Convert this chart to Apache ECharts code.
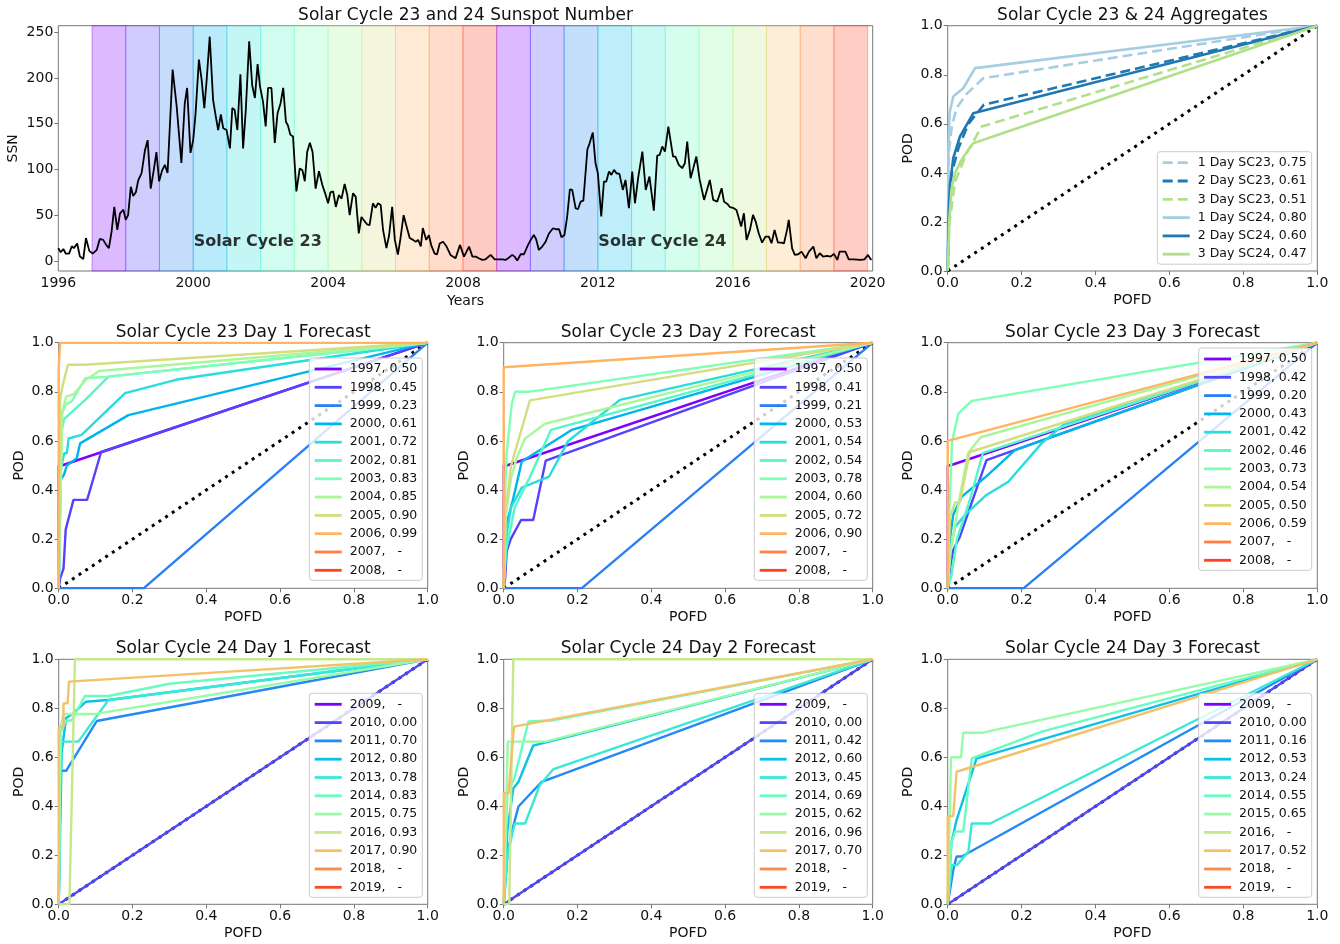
<!DOCTYPE html>
<html>
<head>
<meta charset="utf-8">
<title>Solar Cycle 23 and 24</title>
<script src="https://cdn.jsdelivr.net/npm/echarts@6/dist/echarts.min.js"></script>
<style>
  html, body { margin: 0; padding: 0; background: #fff; }
  #chart { width: 1340px; height: 944px; }
</style>
</head>
<body>
<div id="chart"></div>
<script>
// ---- sunspot number (years since 1996, SSN) ----
const ssnT = [
  0.00, 0.07, 0.15, 0.22, 0.32, 0.40, 0.46, 0.56, 0.64, 0.74,
  0.82, 0.92, 1.02, 1.14, 1.23, 1.33, 1.43, 1.50, 1.58, 1.66,
  1.75, 1.83, 1.93, 2.00, 2.07, 2.15, 2.22, 2.30, 2.37, 2.47,
  2.57, 2.65, 2.74, 2.83, 2.91, 2.99, 3.08, 3.16, 3.24, 3.39,
  3.51, 3.65, 3.75, 3.82, 3.92, 4.00, 4.07, 4.17, 4.25, 4.33,
  4.40, 4.49, 4.59, 4.67, 4.74, 4.82, 4.89, 4.99, 5.09, 5.16,
  5.23, 5.31, 5.40, 5.48, 5.56, 5.66, 5.75, 5.83, 5.91, 5.98,
  6.07, 6.15, 6.22, 6.32, 6.42, 6.50, 6.59, 6.67, 6.75, 6.81,
  6.88, 6.96, 7.06, 7.16, 7.24, 7.31, 7.38, 7.46, 7.54, 7.63,
  7.73, 7.83, 7.92, 8.00, 8.07, 8.15, 8.23, 8.32, 8.40, 8.49,
  8.57, 8.64, 8.74, 8.82, 8.91, 8.99, 9.09, 9.16, 9.23, 9.33,
  9.41, 9.48, 9.56, 9.63, 9.73, 9.81, 9.90, 9.98, 10.07, 10.14,
  10.24, 10.34, 10.42, 10.52, 10.60, 10.67, 10.75, 10.81, 10.91, 10.99,
  11.06, 11.16, 11.23, 11.31, 11.41, 11.51, 11.63, 11.78, 11.91, 12.03,
  12.18, 12.28, 12.38, 12.47, 12.57, 12.67, 12.82, 12.94, 13.07, 13.17,
  13.26, 13.36, 13.46, 13.53, 13.61, 13.71, 13.81, 13.93, 14.01, 14.10,
  14.17, 14.25, 14.35, 14.45, 14.55, 14.67, 14.75, 14.85, 14.92, 15.01,
  15.09, 15.17, 15.24, 15.34, 15.41, 15.49, 15.57, 15.69, 15.75, 15.85,
  15.93, 16.00, 16.10, 16.18, 16.25, 16.33, 16.40, 16.48, 16.55, 16.64,
  16.74, 16.82, 16.92, 17.02, 17.10, 17.20, 17.32, 17.42, 17.53, 17.66,
  17.76, 17.83, 17.91, 17.99, 18.09, 18.23, 18.30, 18.40, 18.50, 18.58,
  18.65, 18.75, 18.83, 18.92, 19.02, 19.15, 19.32, 19.42, 19.54, 19.67,
  19.74, 19.84, 19.92, 20.03, 20.11, 20.25, 20.33, 20.41, 20.51, 20.60,
  20.68, 20.77, 20.87, 20.97, 21.07, 21.15, 21.24, 21.34, 21.44, 21.52,
  21.61, 21.66, 21.76, 21.84, 21.94, 22.04, 22.16, 22.26, 22.39, 22.48,
  22.58, 22.68, 22.80, 22.90, 23.00, 23.10, 23.17, 23.26, 23.34, 23.44,
  23.59, 23.79, 23.91, 24.01, 24.09, 24.12
];
const ssnV = [
  14, 9.5, 13, 8, 8, 16, 14, 19, 5, 2,
  25, 11, 8, 12, 24, 23, 17, 14, 32, 59,
  34, 52, 56, 45, 50, 81, 71, 75, 88, 96,
  121, 132, 79, 99, 119, 87, 99, 105, 96, 209,
  169, 107, 172, 189, 118, 132, 161, 220, 198, 167,
  198, 245, 176, 158, 143, 160, 145, 143, 123, 167,
  165, 143, 204, 123, 165, 240, 192, 178, 215, 191,
  174, 147, 189, 189, 129, 161, 172, 189, 152, 148,
  138, 136, 76, 101, 99, 87, 119, 129, 119, 79,
  98, 83, 73, 63, 75, 76, 59, 72, 68, 84,
  72, 50, 74, 70, 30, 48, 43, 40, 39, 63,
  58, 63, 61, 34, 14, 28, 59, 23, 7, 23,
  50, 36, 25, 23, 21, 23, 16, 36, 23, 28,
  17, 8, 7, 19, 21, 16, 6.6, 2.9, 17.5, 4.7,
  15.7, 4.7, 4.7, 2.9, 1.1, 1.8, 6.6, 1.8, 1.8, 1.8,
  1.1, 3.6, 6.6, 4.7, 0.4, 7.3, 7.3, 17.5, 23, 28.4,
  23.7, 12, 15.7, 21, 30, 35.7, 34.6, 34.6, 25.9, 28.4,
  48.5, 78.3, 77.6, 57.6, 56.5, 64.8, 65.9, 122, 127.9, 140.3,
  106.7, 95.8, 48.5, 86.7, 86.7, 97.6, 94, 99.5, 95.8, 95.1,
  77.6, 88.5, 57.6, 97.6, 63, 92.2, 119.5, 77.6, 92.2, 55,
  115, 115.8, 125, 119.5, 146.8, 114, 114, 104.9, 101.3, 106.7,
  130.4, 90.3, 101.3, 114, 88.5, 66.7, 88.5, 66.7, 64.8, 79.4,
  64.8, 62.3, 58.7, 57.6, 55.7, 37.5, 52.1, 23, 33.9, 50.3,
  43, 30.2, 20, 26.6, 26.6, 19.3, 33.9, 20, 20, 19.3,
  33.9, 44.8, 13.8, 6.6, 7.3, 10.2, 2.9, 10.2, 15.7, 2.9,
  8.4, 4.7, 5.5, 4.7, 7.7, 1.1, 10.2, 10.2, 10.2, 1.8,
  1.8, 1.1, 1.8, 6.6, 1.8, 1.8
];
const ssnTicksX = [1996, 2000, 2004, 2008, 2012, 2016, 2020];
const ssnTicksY = [0, 50, 100, 150, 200, 250];
const cycleLabels = ['Solar Cycle 23', 'Solar Cycle 24'];
const cycleLabelX = [2000, 2012];
const cycleLabelY = 20.5;

// ---- years and scores shown in the legends ----
const years23 = ['1997', '1998', '1999', '2000', '2001', '2002', '2003', '2004', '2005', '2006', '2007', '2008'];
const years24 = ['2009', '2010', '2011', '2012', '2013', '2014', '2015', '2016', '2017', '2018', '2019'];
const auc23Day1 = ['0.50', '0.45', '0.23', '0.61', '0.72', '0.81', '0.83', '0.85', '0.90', '0.99', '-', '-'];
const auc23Day2 = ['0.50', '0.41', '0.21', '0.53', '0.54', '0.54', '0.78', '0.60', '0.72', '0.90', '-', '-'];
const auc23Day3 = ['0.50', '0.42', '0.20', '0.43', '0.42', '0.46', '0.73', '0.54', '0.50', '0.59', '-', '-'];
const auc24Day1 = ['-', '0.00', '0.70', '0.80', '0.78', '0.83', '0.75', '0.93', '0.90', '-', '-'];
const auc24Day2 = ['-', '0.00', '0.42', '0.60', '0.45', '0.69', '0.62', '0.96', '0.70', '-', '-'];
const auc24Day3 = ['-', '0.00', '0.16', '0.53', '0.24', '0.55', '0.65', '-', '0.52', '-', '-'];

// ---- ROC curves [POFD, POD], one list per year ----
const roc23Day1 = [
  [[0, 0], [0, 0.5], [0.008, 0.5], [1, 1]],
  [[0, 0], [0.004, 0.04], [0.013, 0.08], [0.019, 0.24], [0.04, 0.36], [0.077, 0.36], [0.115, 0.555], [1, 1]],
  [[0, 0], [0.23, 0], [1, 1]],
  [[0, 0], [0.005, 0.44], [0.015, 0.465], [0.022, 0.5], [0.049, 0.53], [0.058, 0.59], [0.189, 0.705], [1, 1]],
  [[0, 0], [0.005, 0.48], [0.015, 0.55], [0.022, 0.55], [0.027, 0.61], [0.062, 0.625], [0.18, 0.795], [0.32, 0.85], [1, 1]],
  [[0, 0], [0.005, 0.62], [0.015, 0.69], [0.074, 0.77], [0.135, 0.862], [1, 1]],
  [[0, 0], [0.005, 0.7], [0.02, 0.75], [0.035, 0.76], [0.072, 0.855], [0.135, 0.862], [1, 1]],
  [[0, 0], [0.01, 0.72], [0.02, 0.78], [0.04, 0.79], [0.075, 0.85], [0.11, 0.885], [1, 1]],
  [[0, 0], [0.004, 0.77], [0.01, 0.82], [0.025, 0.91], [0.07, 0.91], [1, 1]],
  [[0, 0], [0, 0.9], [0.004, 1], [1, 1]],
  [],
  []
];
const roc23Day2 = [
  [[0, 0], [0, 0.5], [0.008, 0.5], [1, 1]],
  [[0, 0], [0.004, 0.04], [0.008, 0.15], [0.019, 0.2], [0.047, 0.278], [0.08, 0.278], [0.114, 0.52], [1, 1]],
  [[0, 0], [0.211, 0], [1, 1]],
  [[0, 0], [0.004, 0.1], [0.008, 0.265], [0.025, 0.36], [0.049, 0.516], [0.184, 0.645], [1, 1]],
  [[0, 0], [0.006, 0.2], [0.02, 0.33], [0.049, 0.41], [0.123, 0.455], [0.175, 0.6], [0.315, 0.767], [1, 1]],
  [[0, 0], [0.006, 0.15], [0.03, 0.33], [0.07, 0.45], [0.128, 0.645], [1, 1]],
  [[0, 0], [0.004, 0.4], [0.008, 0.55], [0.012, 0.55], [0.015, 0.65], [0.022, 0.753], [0.031, 0.8], [0.067, 0.8], [1, 1]],
  [[0, 0], [0.006, 0.3], [0.02, 0.45], [0.035, 0.53], [0.058, 0.61], [0.112, 0.67], [1, 1]],
  [[0, 0], [0.004, 0.3], [0.02, 0.5], [0.071, 0.765], [1, 1]],
  [[0, 0], [0, 0.9], [1, 1]],
  [],
  []
];
const roc23Day3 = [
  [[0, 0], [0, 0.5], [0.006, 0.5], [1, 1]],
  [[0, 0], [0.008, 0.1], [0.015, 0.156], [0.033, 0.21], [0.105, 0.522], [1, 1]],
  [[0, 0], [0.205, 0], [1, 1]],
  [[0, 0], [0.006, 0.2], [0.015, 0.3], [0.038, 0.373], [0.1, 0.45], [0.182, 0.563], [1, 1]],
  [[0, 0], [0.006, 0.15], [0.02, 0.25], [0.051, 0.305], [0.105, 0.38], [0.164, 0.434], [0.254, 0.59], [0.313, 0.665], [1, 1]],
  [[0, 0], [0.01, 0.05], [0.025, 0.2], [0.06, 0.36], [0.095, 0.55], [1, 1]],
  [[0, 0], [0.004, 0.3], [0.012, 0.6], [0.029, 0.712], [0.065, 0.763], [1, 1]],
  [[0, 0], [0.008, 0.15], [0.03, 0.35], [0.055, 0.55], [0.089, 0.615], [1, 1]],
  [[0, 0], [0.006, 0.29], [0.02, 0.35], [0.033, 0.35], [0.06, 0.555], [1, 1]],
  [[0, 0], [0, 0.6], [1, 1]],
  [],
  []
];
const roc24Day1 = [
  [],
  [[0, 0], [1, 1]],
  [[0, 0], [0.005, 0.545], [0.02, 0.545], [0.103, 0.748], [1, 1]],
  [[0, 0], [0.008, 0.62], [0.02, 0.76], [0.04, 0.78], [0.074, 0.827], [0.14, 0.835], [1, 1]],
  [[0, 0], [0.004, 0.6], [0.008, 0.664], [0.053, 0.664], [0.135, 0.834], [1, 1]],
  [[0, 0], [0.005, 0.7], [0.02, 0.75], [0.035, 0.75], [0.071, 0.85], [0.135, 0.85], [0.3, 0.9], [1, 1]],
  [[0, 0], [0.005, 0.72], [0.013, 0.777], [0.1, 0.777], [1, 1]],
  [[0, 0], [0.029, 0], [0.044, 1], [1, 1]],
  [[0, 0], [0, 0.72], [0.013, 0.725], [0.013, 0.82], [0.024, 0.82], [0.028, 0.909], [1, 1]],
  [],
  []
];
const roc24Day2 = [
  [],
  [[0, 0], [1, 1]],
  [[0, 0], [0.01, 0.2], [0.022, 0.297], [0.04, 0.399], [0.103, 0.5], [1, 1]],
  [[0, 0], [0.01, 0.3], [0.026, 0.473], [0.04, 0.5], [0.08, 0.648], [1, 1]],
  [[0, 0], [0.01, 0.2], [0.03, 0.33], [0.058, 0.33], [0.098, 0.487], [0.135, 0.552], [1, 1]],
  [[0, 0], [0.01, 0.45], [0.03, 0.52], [0.067, 0.746], [0.13, 0.75], [1, 1]],
  [[0, 0], [0.011, 0.664], [0.112, 0.664], [1, 1]],
  [[0, 0], [0.015, 0], [0.026, 1], [1, 1]],
  [[0, 0], [0, 0.453], [0.013, 0.453], [0.028, 0.725], [1, 1]],
  [],
  []
];
const roc24Day3 = [
  [],
  [[0, 0], [1, 1]],
  [[0, 0], [0.015, 0.14], [0.024, 0.195], [0.038, 0.195], [1, 1]],
  [[0, 0], [0.01, 0.25], [0.024, 0.344], [0.078, 0.596], [1, 1]],
  [[0, 0], [0.011, 0.16], [0.025, 0.16], [0.056, 0.215], [0.065, 0.33], [0.115, 0.33], [1, 1]],
  [[0, 0], [0.01, 0.25], [0.02, 0.297], [0.042, 0.297], [0.065, 0.596], [0.254, 0.705], [1, 1]],
  [[0, 0], [0.009, 0.6], [0.036, 0.6], [0.042, 0.7], [0.092, 0.7], [1, 1]],
  [],
  [[0, 0], [0, 0.36], [0.015, 0.36], [0.024, 0.541], [1, 1]],
  [],
  []
];

// ---- aggregates ----
const aggNames = ['1 Day SC23, 0.75', '2 Day SC23, 0.61', '3 Day SC23, 0.51', '1 Day SC24, 0.80', '2 Day SC24, 0.60', '3 Day SC24, 0.47'];
const aggCurves = [
  [[0, 0], [0.003, 0.48], [0.011, 0.589], [0.024, 0.664], [0.05, 0.72], [0.096, 0.786], [1, 1]],
  [[0, 0], [0.004, 0.3], [0.011, 0.4], [0.029, 0.5], [0.056, 0.6], [0.098, 0.678], [1, 1]],
  [[0, 0], [0.005, 0.2], [0.02, 0.364], [0.051, 0.48], [0.092, 0.589], [1, 1]],
  [[0, 0], [0.002, 0.5], [0.005, 0.644], [0.015, 0.711], [0.042, 0.745], [0.074, 0.827], [1, 1]],
  [[0, 0], [0.003, 0.25], [0.006, 0.35], [0.015, 0.46], [0.033, 0.548], [0.069, 0.643], [1, 1]],
  [[0, 0], [0.004, 0.2], [0.01, 0.33], [0.02, 0.4], [0.04, 0.46], [0.069, 0.521], [1, 1]]
];
const diagonal = [[0, 0], [1, 1]];

// ---- styling ----
const FONT = 'DejaVu Sans';
const FRAME = '#777';
const TEXT = '#111';
const aggColors = ['#a6cee3', '#1f78b4', '#b2df8a', '#a6cee3', '#1f78b4', '#b2df8a'];

function rainbow(x, a) {   // matplotlib "rainbow" colormap
  const r = Math.min(1, Math.abs(2 * x - 0.5));
  const g = Math.sin(Math.PI * x);
  const b = Math.cos(Math.PI * x / 2);
  return 'rgba(' + Math.round(r * 255) + ',' + Math.round(g * 255) + ',' + Math.round(b * 255) + ',' + (a == null ? 1 : a) + ')';
}
const colors23 = years23.map((y, i) => rainbow(i / 12));
const colors24 = years24.map((y, i) => rainbow(i / 11));

function legendName(year, auc) {
  return auc === '-' ? year + ',   -' : year + ', ' + auc;
}

const grids = [];
const xAxes = [];
const yAxes = [];
const series = [];
const titles = [];
const legends = [];

function addPanel(box, title, xName, yName, valueAxis) {
  const idx = grids.length;
  grids.push({
    left: box.left, top: box.top, width: box.width, height: box.height,
    show: true, borderColor: FRAME, borderWidth: 1, backgroundColor: 'transparent',
    containLabel: false, outerBoundsMode: 'none'
  });
  titles.push({
    text: title, left: box.left + box.width / 2, top: box.top - 19, textAlign: 'center', padding: 0,
    textStyle: {fontFamily: FONT, fontSize: 17, fontWeight: 'normal', color: TEXT}
  });
  const common = {
    gridIndex: idx, type: 'value', nameLocation: 'middle',
    nameTextStyle: {fontFamily: FONT, fontSize: 14, color: TEXT},
    axisLine: {show: false},
    axisTick: {show: true, length: 4, lineStyle: {color: FRAME, width: 1}},
    splitLine: {show: false}
  };
  xAxes.push(Object.assign({}, common, valueAxis.x, {
    name: xName, nameGap: valueAxis.xGap,
    axisLabel: Object.assign({fontFamily: FONT, fontSize: 14, color: TEXT, margin: 5}, valueAxis.xLabel)
  }));
  yAxes.push(Object.assign({}, common, valueAxis.y, {
    name: yName, nameGap: valueAxis.yGap, nameRotate: 90,
    axisLabel: Object.assign({fontFamily: FONT, fontSize: 14, color: TEXT, margin: 5}, valueAxis.yLabel)
  }));
  return idx;
}

const rocAxis = {
  x: {min: 0, max: 1, interval: 0.2},
  y: {min: 0, max: 1, interval: 0.2},
  xLabel: {formatter: v => v.toFixed(1)},
  yLabel: {formatter: v => v.toFixed(1)},
  xGap: 22, yGap: 32
};

function legendBox(left, top, names) {
  return {
    orient: 'vertical', left: left, top: top, data: names, selectedMode: false,
    itemWidth: 27, itemHeight: 14, itemGap: 4.3, padding: [4, 5, 3, 4],
    itemStyle: {opacity: 0, borderWidth: 0},
    lineStyle: {width: 2.8},
    backgroundColor: 'rgba(255,255,255,0.8)', borderColor: '#ccc', borderWidth: 1, borderRadius: 3,
    textStyle: {fontFamily: FONT, fontSize: 12.5, color: TEXT, lineHeight: 14, padding: [0, 0, 0, 3]}
  };
}

function dottedDiagonal(idx) {
  series.push({
    type: 'line', xAxisIndex: idx, yAxisIndex: idx, data: diagonal, symbol: 'none', silent: true, z: 2,
    lineStyle: {color: '#000', width: 3, type: [3, 5]}
  });
}

// ---- SSN panel ----
const ssnIdx = addPanel({left: 58.3, top: 25.7, width: 814.4, height: 245.3},
  'Solar Cycle 23 and 24 Sunspot Number', 'Years', 'SSN', {
    x: {min: 1996, max: 2020.15},
    y: {min: -11, max: 257, nameMoveOverlap: false},
    xLabel: {customValues: ssnTicksX, formatter: v => String(v)},
    yLabel: {customValues: ssnTicksY, formatter: v => String(v)},
    xGap: 23, yGap: 38
  });
xAxes[ssnIdx].axisTick.customValues = ssnTicksX;
yAxes[ssnIdx].axisTick.customValues = ssnTicksY;

const bands = [];
years23.forEach((y, i) => bands.push([
  {xAxis: Number(y), itemStyle: {color: rainbow(i / 12, 0.27), borderColor: rainbow(i / 12, 0.38), borderWidth: 1}},
  {xAxis: Number(y) + 1}
]));
years24.forEach((y, i) => bands.push([
  {xAxis: Number(y), itemStyle: {color: rainbow(i / 11, 0.27), borderColor: rainbow(i / 11, 0.38), borderWidth: 1}},
  {xAxis: Number(y) + 1}
]));

series.push({
  type: 'line', xAxisIndex: ssnIdx, yAxisIndex: ssnIdx, symbol: 'none', z: 3, silent: true,
  data: ssnT.map((t, i) => [1996 + t, ssnV[i]]),
  lineStyle: {color: '#000', width: 1.8},
  markArea: {silent: true, label: {show: false}, data: bands}
});
series.push({
  type: 'scatter', xAxisIndex: ssnIdx, yAxisIndex: ssnIdx, symbolSize: 1, silent: true, z: 4,
  itemStyle: {color: 'rgba(0,0,0,0)'},
  data: cycleLabels.map((n, i) => ({name: n, value: [cycleLabelX[i], cycleLabelY]})),
  label: {show: true, position: 'right', distance: 0, formatter: '{b}', fontFamily: FONT,
    fontSize: 16, fontWeight: 'bold', color: '#000'},
  labelLayout: {hideOverlap: false}
});

// ---- aggregates panel ----
const aggIdx = addPanel({left: 947.7, top: 25.7, width: 369.6, height: 245.3},
  'Solar Cycle 23 & 24 Aggregates', 'POFD', 'POD', rocAxis);
dottedDiagonal(aggIdx);
aggNames.forEach((n, i) => series.push({
  type: 'line', name: n, xAxisIndex: aggIdx, yAxisIndex: aggIdx, data: aggCurves[i], symbol: 'none', z: 3,
  silent: true, color: aggColors[i],
  lineStyle: {color: aggColors[i], width: 2.6, type: i < 3 ? [10, 5] : 'solid'}
}));
legends.push(legendBox(1157.3, 151.7, aggNames));

// ---- yearly ROC panels ----
const rocPanels = [
  {title: 'Solar Cycle 23 Day 1 Forecast', years: years23, colors: colors23, auc: auc23Day1, curves: roc23Day1,
    box: {left: 58.7, top: 342.7, width: 369, height: 245.6}, legend: [309.3, 358]},
  {title: 'Solar Cycle 23 Day 2 Forecast', years: years23, colors: colors23, auc: auc23Day2, curves: roc23Day2,
    box: {left: 503.7, top: 342.7, width: 369, height: 245.6}, legend: [754.3, 358]},
  {title: 'Solar Cycle 23 Day 3 Forecast', years: years23, colors: colors23, auc: auc23Day3, curves: roc23Day3,
    box: {left: 947.7, top: 342.7, width: 369.6, height: 245.6}, legend: [1198.7, 348]},
  {title: 'Solar Cycle 24 Day 1 Forecast', years: years24, colors: colors24, auc: auc24Day1, curves: roc24Day1,
    box: {left: 58.7, top: 659.3, width: 369, height: 245}, legend: [309.3, 693.3]},
  {title: 'Solar Cycle 24 Day 2 Forecast', years: years24, colors: colors24, auc: auc24Day2, curves: roc24Day2,
    box: {left: 503.7, top: 659.3, width: 369, height: 245}, legend: [754.3, 693.3]},
  {title: 'Solar Cycle 24 Day 3 Forecast', years: years24, colors: colors24, auc: auc24Day3, curves: roc24Day3,
    box: {left: 947.7, top: 659.3, width: 369.6, height: 245}, legend: [1198.7, 693.3]}
];

rocPanels.forEach(p => {
  const idx = addPanel(p.box, p.title, 'POFD', 'POD', rocAxis);
  dottedDiagonal(idx);
  const names = p.years.map((y, i) => legendName(y, p.auc[i]));
  names.forEach((n, i) => series.push({
    type: 'line', name: n, xAxisIndex: idx, yAxisIndex: idx, data: p.curves[i], symbol: 'none', z: 3,
    silent: true, color: p.colors[i],
    lineStyle: {color: p.colors[i], width: 2.4}
  }));
  legends.push(legendBox(p.legend[0], p.legend[1], names));
});

const chart = echarts.init(document.getElementById('chart'));
chart.setOption({
  animation: false,
  backgroundColor: '#fff',
  textStyle: {fontFamily: FONT},
  title: titles,
  legend: legends,
  grid: grids,
  xAxis: xAxes,
  yAxis: yAxes,
  series: series
});
</script>
</body>
</html>
